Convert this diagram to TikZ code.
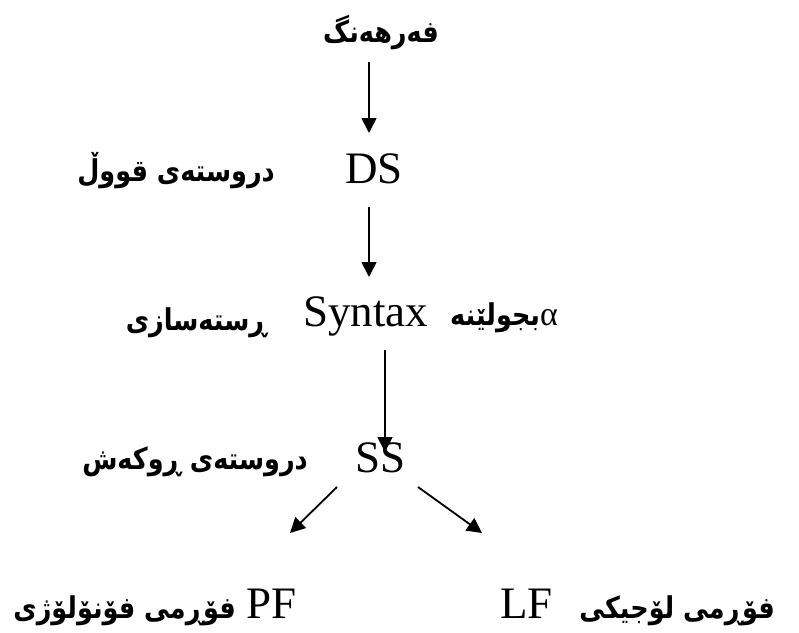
\documentclass[tikz,border=0pt]{standalone}
\usepackage{fontspec}
\setmainfont{Liberation Serif}
\newfontfamily\ku[Script=Arabic,FakeStretch=0.85]{DejaVu Sans}
\TeXXeTstate=1
\usetikzlibrary{arrows.meta}
\begin{document}
\begin{tikzpicture}[x=1pt,y=-1pt,
  lat/.style={font=\fontsize{45}{50}\selectfont, inner sep=0pt},
  kur/.style={font=\ku\bfseries\fontsize{30}{34}\selectfont, inner sep=0pt},
  arr/.style={line width=1.8pt, -{Triangle[length=15pt,width=15pt]}}]
\fill[white] (0,0) rectangle (799,632);
\node[kur, anchor=base] (t) at (381,42) {\beginR فەرهەنگ\endR};
\node[lat, anchor=base west] (ds) at (345,183) {DS};
\node[kur, anchor=base east] (dsl) at (275,181) {\beginR دروستەی قووڵ\endR};
\node[lat, anchor=base west] (syn) at (303,326) {Syntax};
\node[kur, anchor=base east] (synl) at (267,330) {\beginR ڕستەسازی\endR};
\node[kur, anchor=base west] (mv) at (450,325) {\beginL\beginR بجولێنه\endR{\normalfont\fontsize{34}{36}\selectfont α}\endL};
\node[lat, anchor=base west] (ss) at (355,472) {SS};
\node[kur, anchor=base east] (ssl) at (308,469) {\beginR دروستەی ڕوکەش\endR};
\node[lat, anchor=base west] (pf) at (246,618) {PF};
\node[kur, anchor=base east] (pfl) at (236,618) {\beginR فۆڕمی فۆنۆلۆژی\endR};
\node[lat, anchor=base west] (lf) at (500,618) {LF};
\node[kur, anchor=base east] (lfl) at (775,618) {\beginR فۆڕمی لۆجیکی\endR};
\coordinate (a1s) at (369,62);  \coordinate (a1e) at (369,133);
\coordinate (a2s) at (369,207); \coordinate (a2e) at (369,277);
\coordinate (a3s) at (385,350); \coordinate (a3e) at (385,452);
\coordinate (a4s) at (337,487); \coordinate (a4e) at (290,533);
\coordinate (a5s) at (418,487); \coordinate (a5e) at (482,533);
\draw[arr] (a1s) -- (a1e);
\draw[arr] (a2s) -- (a2e);
\draw[arr] (a3s) -- (a3e);
\draw[arr] (a4s) -- (a4e);
\draw[arr] (a5s) -- (a5e);
\end{tikzpicture}
\end{document}
